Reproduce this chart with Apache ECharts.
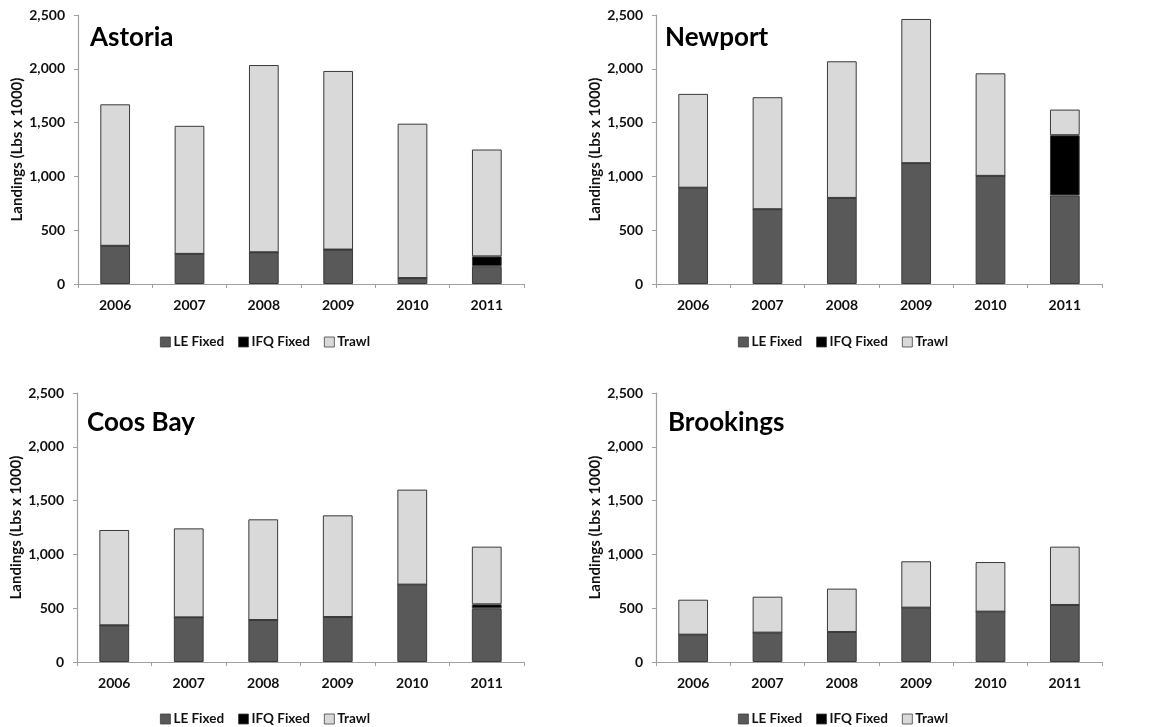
<!DOCTYPE html>
<html><head><meta charset="utf-8">
<script src="https://cdn.jsdelivr.net/npm/echarts@6/dist/echarts.min.js"></script>
<style>html,body{margin:0;padding:0;background:#fff}#c{width:1155px;height:727px}</style>
</head><body><div id="c"></div>
<script>
const years = ['2006','2007','2008','2009','2010','2011'];
const seriesNames = ['LE Fixed','IFQ Fixed','Trawl'];
const yTicks = [0,500,1000,1500,2000,2500];
const ports = ['Astoria','Newport','Coos Bay','Brookings'];

const astoriaLE = [355,280,295,320,55,165];
const astoriaIFQ = [0,0,0,0,0,92];
const astoriaTrawl = [1315,1190,1740,1660,1435,993];

const newportLE = [895,695,800,1123,1005,823];
const newportIFQ = [0,0,0,0,0,560];
const newportTrawl = [872,1041,1270,1340,953,238];

const coosLE = [341,415,390,418,719,499];
const coosIFQ = [0,0,0,0,0,37];
const coosTrawl = [886,827,936,945,883,536];

const brookLE = [254,273,279,505,468,530];
const brookIFQ = [0,0,0,0,0,0];
const brookTrawl = [325,334,403,431,461,542];

const portData = [
  [astoriaLE, astoriaIFQ, astoriaTrawl],
  [newportLE, newportIFQ, newportTrawl],
  [coosLE, coosIFQ, coosTrawl],
  [brookLE, brookIFQ, brookTrawl]
];
const colors = ['#595959','#000000','#d9d9d9'];

const FONT = 'Lato';
const grids = [
  {left:78, top:15, width:446, height:269},
  {left:656, top:15, width:446, height:269},
  {left:77, top:393, width:447, height:269},
  {left:656, top:393, width:446, height:269}
];
const titlePos = [[85,20],[660,20],[82,405],[663,405]];
const legendPos = [[160,335],[738,335],[160,712],[738,712]];

const option = {
  animation:false,
  textStyle:{fontFamily:FONT},
  title: ports.map((p,i)=>({text:p,left:titlePos[i][0],top:titlePos[i][1],
    textStyle:{fontFamily:FONT,fontSize:26,fontWeight:'bold',color:'#000'}})),
  legend: legendPos.map(p=>({data:seriesNames,left:p[0],top:p[1],padding:0,icon:'rect',itemWidth:10,itemHeight:10,itemGap:14,
    textStyle:{fontFamily:FONT,fontSize:13.5,fontWeight:'bold',color:'#111',padding:[0,0,0,-2]}, itemStyle:{borderColor:'#404040',borderWidth:0.8}})),
  grid: grids,
  xAxis: grids.map((g,i)=>({type:'category',gridIndex:i,data:years,
    axisLine:{lineStyle:{color:'#a0a0a0',width:1.2}},
    axisTick:{show:true,length:4,lineStyle:{color:'#a0a0a0'}},
    axisLabel:{fontFamily:FONT,fontSize:14,fontWeight:'bold',color:'#111',margin:14}})),
  yAxis: grids.map((g,i)=>({type:'value',gridIndex:i,min:0,max:2500,interval:500,
    name:'Landings (Lbs x 1000)',nameLocation:'middle',nameGap:53,
    nameTextStyle:{fontFamily:FONT,fontSize:15,fontWeight:'bold',color:'#111'},
    axisLine:{show:true,lineStyle:{color:'#a0a0a0',width:1.2}},
    axisTick:{show:true,length:4,lineStyle:{color:'#a0a0a0'}},
    splitLine:{show:false},
    axisLabel:{fontFamily:FONT,fontSize:14,fontWeight:'bold',color:'#111',margin:13,
      formatter:v=>v.toLocaleString('en-US')}})),
  series: []
};
portData.forEach((arrs,gi)=>{
  arrs.forEach((vals,si)=>{
    option.series.push({type:'bar',name:seriesNames[si],xAxisIndex:gi,yAxisIndex:gi,stack:'s'+gi,
      data:vals,barWidth:'40%',
      itemStyle:{color:colors[si],borderColor:'#3a3a3a',borderWidth:1}});
  });
});
const chart = echarts.init(document.getElementById('c'));
chart.setOption(option);
</script></body></html>
